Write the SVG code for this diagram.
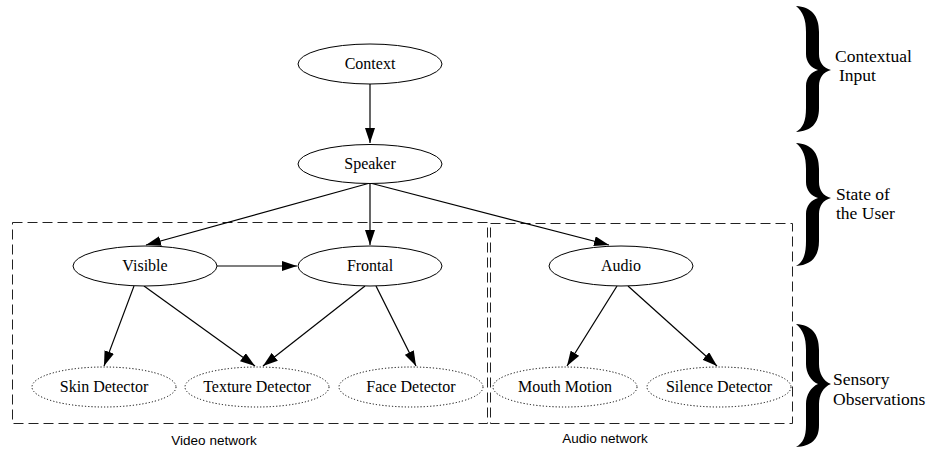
<svg xmlns="http://www.w3.org/2000/svg" width="933" height="450" viewBox="0 0 933 450">
<style>
.n{fill:#fff;stroke:#000;stroke-width:1}
.o{fill:#fff;stroke:#000;stroke-width:1;stroke-dasharray:1.2,2}
.t{font-family:"Liberation Serif","Times New Roman",serif;font-size:16px;text-anchor:middle;fill:#000}
.b{font-family:"Liberation Serif","Times New Roman",serif;font-size:17.5px;fill:#000}
.s{font-family:"Liberation Sans",Arial,sans-serif;font-size:13.5px;text-anchor:middle;fill:#000}
.c{stroke:#000;stroke-width:1.2;fill:none;marker-end:url(#ah)}
.box{fill:none;stroke:#222;stroke-width:1;stroke-dasharray:10,5}
</style>
<defs>
<marker id="ah" markerUnits="userSpaceOnUse" markerWidth="15" markerHeight="10" refX="15" refY="5" orient="auto">
<path d="M0,0 L15,5 L0,10 z" fill="#000"/>
</marker>
</defs>
<rect width="933" height="450" fill="#fff"/>
<g id="clusters">
<rect class="box" x="12.5" y="222.5" width="475" height="201"/>
<rect class="box" x="490.5" y="223.5" width="302" height="200"/>
<text class="s" x="214" y="445">Video network</text>
<text class="s" x="605" y="443">Audio network</text>
</g>
<g id="connectors">
<line class="c" x1="370" y1="84" x2="370" y2="143"/>
<line class="c" x1="370" y1="183" x2="146" y2="245"/>
<line class="c" x1="370" y1="184" x2="370" y2="245"/>
<line class="c" x1="370" y1="183" x2="609" y2="245"/>
<line class="c" x1="217" y1="266" x2="297" y2="266"/>
<line class="c" x1="134" y1="286" x2="104" y2="366"/>
<line class="c" x1="144" y1="286" x2="255" y2="366"/>
<line class="c" x1="365" y1="286" x2="263" y2="366"/>
<line class="c" x1="376" y1="286" x2="416" y2="366"/>
<line class="c" x1="617" y1="286" x2="567" y2="366"/>
<line class="c" x1="628" y1="286" x2="717" y2="366"/>
</g>
<g id="context"><ellipse class="n" cx="370" cy="64" rx="72" ry="20"/><text class="t" x="370" y="69">Context</text></g>
<g id="speaker"><ellipse class="n" cx="370" cy="164" rx="72" ry="19.5"/><text class="t" x="370" y="169">Speaker</text></g>
<g id="visible"><ellipse class="n" cx="145" cy="266" rx="72" ry="20"/><text class="t" x="145" y="271">Visible</text></g>
<g id="frontal"><ellipse class="n" cx="370" cy="266" rx="72" ry="20"/><text class="t" x="370" y="271">Frontal</text></g>
<g id="audio"><ellipse class="n" cx="621" cy="266" rx="72" ry="20"/><text class="t" x="621" y="271">Audio</text></g>
<g id="skin"><ellipse class="o" cx="104" cy="387" rx="72" ry="20"/><text class="t" x="104" y="392">Skin Detector</text></g>
<g id="texture"><ellipse class="o" cx="257" cy="387" rx="72" ry="20"/><text class="t" x="257" y="392">Texture Detector</text></g>
<g id="face"><ellipse class="o" cx="411" cy="387" rx="72" ry="20"/><text class="t" x="411" y="392">Face Detector</text></g>
<g id="mouth"><ellipse class="o" cx="565" cy="387" rx="72" ry="20"/><text class="t" x="565" y="392">Mouth Motion</text></g>
<g id="silence"><ellipse class="o" cx="719" cy="387" rx="72" ry="20"/><text class="t" x="719" y="392">Silence Detector</text></g>
<g id="brace-context">
<path d="M796,6 C811,7 819,15 819,32 L819,54 C819,62 823,68 831,70 C823,72 819,78 819,86 L819,108 C819,124 811,131 796,132 C803,128 806,121 806,108 L806,86 C806,78 811,72 818,70 C811,68 806,62 806,54 L806,32 C806,19 803,12 796,6 Z" fill="#000"/>
<text class="b" x="835" y="62">Contextual</text>
<text class="b" x="839" y="81">Input</text>
</g>
<g id="brace-state">
<path d="M796,143 C811,144 819,152 819,169 L819,182 C819,190 823,196 831,198 C823,200 819,206 819,214 L819,241 C819,257 811,265 796,266 C803,262 806,255 806,241 L806,214 C806,206 811,200 818,198 C811,196 806,190 806,182 L806,169 C806,156 803,149 796,143 Z" fill="#000"/>
<text class="b" x="836" y="200">State of</text>
<text class="b" x="836" y="219">the User</text>
</g>
<g id="brace-sensory">
<path d="M796,324 C811,325 819,333 819,350 L819,364 C819,373 823,381 831,384 C823,387 819,395 819,404 L819,425 C819,440 811,446 796,447 C803,443 806,437 806,425 L806,404 C806,395 811,387 818,384 C811,381 806,373 806,364 L806,350 C806,337 803,330 796,324 Z" fill="#000"/>
<text class="b" x="833" y="385">Sensory</text>
<text class="b" x="833" y="404.5">Observations</text>
</g>
</svg>
